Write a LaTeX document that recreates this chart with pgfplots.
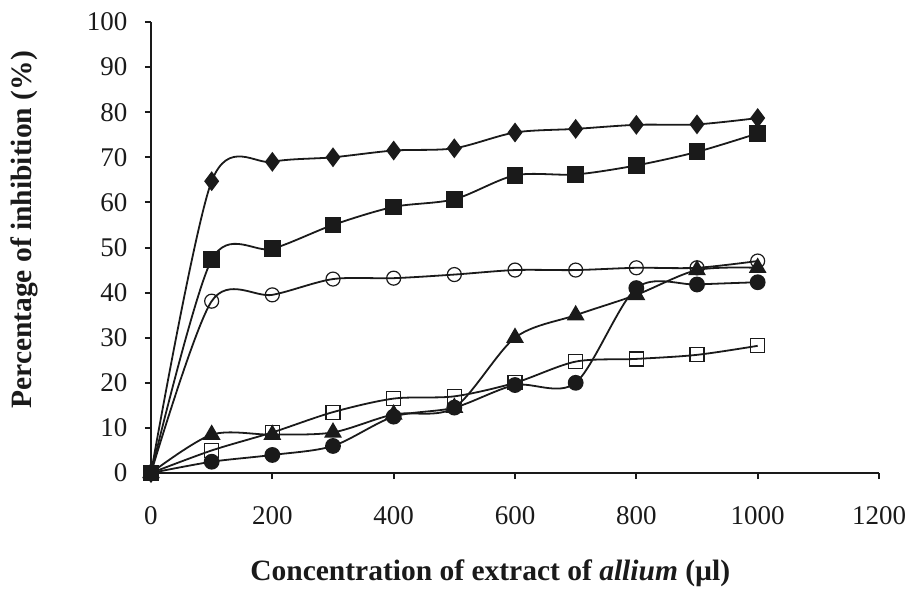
\documentclass[border=0pt]{standalone}
\usepackage{pgfplots}
\pgfplotsset{compat=1.18}
\usepackage{fontspec}
\setmainfont{Liberation Serif}
\definecolor{ink}{HTML}{1A1A1A}
\begin{document}
\begin{tikzpicture}[x=1pt,y=1pt]
\useasboundingbox (-151,-117) rectangle (761,473);
\begin{axis}[
  at={(0,0)}, anchor=south west,
  scale only axis, width=728pt, height=451pt,
  xmin=0, xmax=1200, ymin=0, ymax=100,
  xtick={0,200,...,1200}, ytick={0,10,...,100},
  axis lines=left, axis line style={-, line width=2pt, ink},
  tick align=outside, major tick length=6pt,
  tick style={line width=2pt, ink},
  /pgf/number format/assume math mode=true,
  /pgf/number format/set thousands separator={},
  tick label style={font=\fontsize{27}{30}\selectfont, text=ink},
  xticklabel style={yshift=-24pt},
  yticklabel style={xshift=-14pt},
  xlabel={\textbf{Concentration of extract of \textit{allium} (µl)}},
  ylabel={\textbf{Percentage of inhibition (\%)}},
  label style={font=\fontsize{29.5}{32}\selectfont, text=ink},
  xlabel style={at={(axis description cs:0.466,0)}, anchor=center, yshift=-100pt},
  ylabel style={at={(axis description cs:-0.174,0.539)}, anchor=center, rotate=0},
  clip=false,
  every axis plot/.append style={line width=1.8pt, ink, smooth, tension=0.5},
]
% open square
\addplot[mark=square, mark size=7pt, mark options={fill=white, line width=1.2pt}] coordinates {
(0,0) (100,5) (200,9) (300,13.5) (400,16.5) (500,17) (600,20) (700,24.7) (800,25.3) (900,26.2) (1000,28.2)};
% filled circle
\addplot[mark=*, mark size=7pt, mark options={fill=ink}] coordinates {
(0,0) (100,2.5) (200,4) (300,6) (400,12.5) (500,14.5) (600,19.5) (700,20) (800,41) (900,41.8) (1000,42.3)};
% filled triangle
\addplot[mark=triangle*, mark size=8.5pt, mark options={fill=ink}] coordinates {
(0,0) (100,8.5) (200,8.5) (300,9) (400,13) (500,14.5) (600,30) (700,35) (800,39.5) (900,45) (1000,45.5)};
% open circle
\addplot[mark=o, mark size=7pt, mark options={fill=white, line width=1.2pt}] coordinates {
(0,0) (100,38.1) (200,39.5) (300,43) (400,43.2) (500,44) (600,45) (700,45) (800,45.5) (900,45.5) (1000,47)};
% diamond
\addplot[mark=diamond*, mark size=8.5pt, mark options={fill=ink}] coordinates {
(0,0) (100,64.7) (200,69) (300,70) (400,71.5) (500,72) (600,75.5) (700,76.3) (800,77.2) (900,77.3) (1000,78.7)};
% filled square
\addplot[mark=square*, mark size=7.5pt, mark options={fill=ink}] coordinates {
(0,0) (100,47.3) (200,49.7) (300,55) (400,59) (500,60.7) (600,66) (700,66.2) (800,68.2) (900,71.2) (1000,75.3)};
\end{axis}
\end{tikzpicture}
\end{document}
